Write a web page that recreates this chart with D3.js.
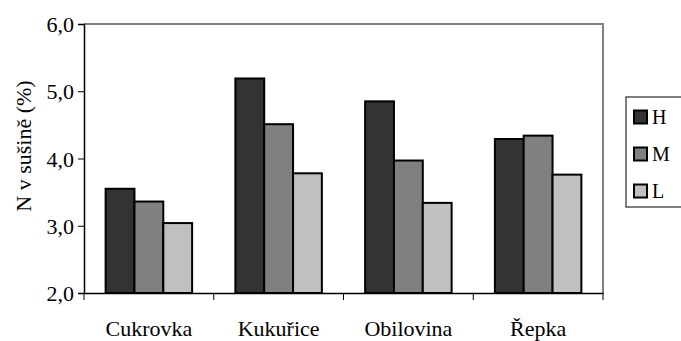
<!DOCTYPE html>
<html>
<head>
<meta charset="utf-8">
<script src="https://cdn.jsdelivr.net/npm/d3@7"></script>
</head>
<body style="margin:0;padding:0;background:#fff">
<svg id="nplot" width="681" height="341"></svg>
<script>
// Nitrogen content in dry matter by crop and level
const categories = ["Cukrovka", "Kukuřice", "Obilovina", "Řepka"];
const seriesNames = ["H", "M", "L"];
const valuesH = [3.55, 5.19, 4.85, 4.29];
const valuesM = [3.36, 4.51, 3.97, 4.34];
const valuesL = [3.04, 3.78, 3.34, 3.76];
const yTicks = [2.0, 3.0, 4.0, 5.0, 6.0];
const yTitle = "N v sušině (%)";

const seriesValues = [valuesH, valuesM, valuesL];
const colors = ["#333333", "#808080", "#c0c0c0"];
const fontSize = 22;

const svg = d3.select("#nplot")
  .style("display", "block")
  .style("font-family", '"Liberation Serif"');
const plot = { left: 84, right: 603, top: 24, bottom: 293 };

const x0 = d3.scaleBand().domain(categories).range([plot.left, plot.right]).paddingInner(0).paddingOuter(0);
const x1 = d3.scaleBand().domain(seriesNames).range([0, x0.bandwidth()]).paddingInner(0).paddingOuter(0.75);
const y = d3.scaleLinear().domain([2, 6]).range([plot.bottom, plot.top]);

const fmt = v => d3.format(".1f")(v).replace(".", ",");
function serifText(sel, size) {
  sel.style("font-family", '"Liberation Serif"').attr("font-size", size || fontSize).attr("fill", "#000");
}

// plot frame: grey top and right edges
svg.append("path")
  .attr("d", `M${plot.left},${plot.top}H${plot.right}V${plot.bottom}`)
  .attr("fill", "none").attr("stroke", "#808080").attr("stroke-width", 2);

// bars
const rows = categories.map((c, i) => ({ cat: c, vals: seriesNames.map((s, j) => ({ s, v: seriesValues[j][i], j })) }));
svg.append("g").selectAll("g").data(rows).join("g")
  .attr("transform", d => `translate(${x0(d.cat)},0)`)
  .selectAll("rect").data(d => d.vals).join("rect")
  .attr("x", d => x1(d.s))
  .attr("y", d => y(d.v))
  .attr("width", x1.bandwidth())
  .attr("height", d => y(2) - y(d.v))
  .attr("fill", d => colors[d.j])
  .attr("stroke", "#000").attr("stroke-width", 2);

// y axis
const yAxis = svg.append("g").attr("transform", `translate(${plot.left},0)`)
  .call(d3.axisLeft(y).tickValues(yTicks).tickFormat(fmt).tickSize(6).tickPadding(4));
yAxis.attr("font-family", null).attr("font-size", null);
yAxis.select(".domain").attr("stroke", "#000").attr("stroke-width", 1.5);
yAxis.selectAll(".tick line").attr("stroke", "#000");
yAxis.selectAll(".tick text").call(serifText).attr("dy", "0.35em");

// x axis with ticks at category boundaries
const xAxis = svg.append("g").attr("transform", `translate(0,${plot.bottom})`)
  .call(d3.axisBottom(x0).tickSize(0));
xAxis.attr("font-family", null).attr("font-size", null);
xAxis.select(".domain").attr("stroke", "#000").attr("stroke-width", 1.5);
xAxis.selectAll(".tick text").call(serifText).attr("y", 43).attr("dy", 0);
const bounds = categories.map(c => x0(c)).concat([plot.right]);
xAxis.selectAll(".bound").data(bounds).join("line").attr("class", "bound")
  .attr("x1", d => d).attr("x2", d => d).attr("y1", 0).attr("y2", 7)
  .attr("stroke", "#000");

// y axis title
svg.append("text")
  .attr("transform", "translate(31,146) rotate(-90)")
  .attr("text-anchor", "middle")
  .call(serifText)
  .text(yTitle);

// legend
const legend = svg.append("g").attr("transform", "translate(626,97)");
legend.append("rect").attr("x", 0).attr("y", 0).attr("width", 60).attr("height", 110)
  .attr("fill", "#fff").attr("stroke", "#000").attr("stroke-width", 1);
const items = legend.selectAll("g.item").data(seriesNames).join("g").attr("class", "item")
  .attr("transform", (d, i) => `translate(8,${20 + i * 37})`);
items.append("rect").attr("x", 0).attr("y", -6.5).attr("width", 13).attr("height", 13)
  .attr("fill", (d, i) => colors[i]).attr("stroke", "#000").attr("stroke-width", 2);
items.append("text").attr("x", 18).attr("dy", "0.35em").call(serifText, 20).text(d => d);
</script>
</body>
</html>
